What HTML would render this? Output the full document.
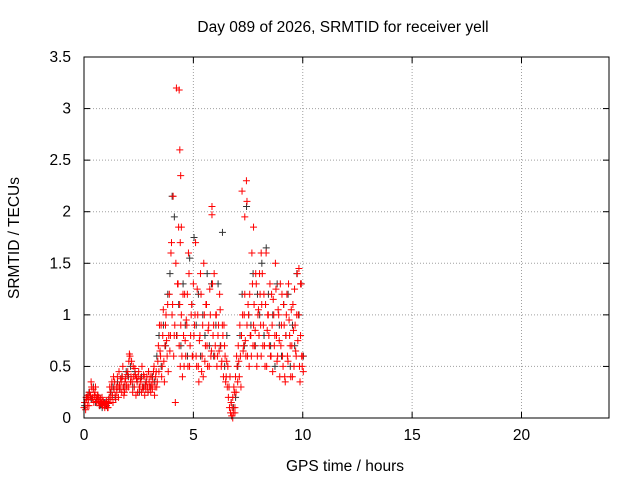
<!DOCTYPE html>
<html><head><meta charset="utf-8"><style>
body{margin:0;background:#fff;}
svg{display:block;font-family:"Liberation Sans",sans-serif;font-size:15.5px;}
</style></head><body>
<svg id="chart" width="640" height="480">
<rect width="640" height="480" fill="#fff"/>
<text x="343" y="32" text-anchor="middle">Day 089 of 2026, SRMTID for receiver yell</text>
<text transform="translate(19,238) rotate(-90)" text-anchor="middle">SRMTID / TECUs</text>
<text x="345" y="471" text-anchor="middle">GPS time / hours</text>
<g id="grid"></g>
<g id="axes"></g>
<g id="black"></g>
<g id="red"></g>
<rect x="84" y="57" width="525" height="361" fill="none" stroke="#000"/>
</svg>
<script>
const xTicks=[0,5,10,15,20];
const yTicks=[0,0.5,1,1.5,2,2.5,3,3.5];
const yTickLabels=["0","0.5","1","1.5","2","2.5","3","3.5"];
const redA=[0.10,0.15,0.20,0.12,0.18,0.25,0.22,0.30,0.20,0.15,0.25,0.20,0.18,0.15,0.12,0.18,0.14,0.12,0.15,0.10,
0.12,0.15,0.10,0.20,0.25,0.30,0.22,0.40,0.35,0.18,0.25,0.30,0.45,0.28,0.35,0.40,0.30,0.25,0.38,0.32,
0.45,0.55,0.60,0.40,0.35,0.50,0.30,0.42,0.38,0.25,0.45,0.30,0.35,0.50,0.28,0.40,0.32,0.35,0.30,0.45,
0.30,0.25,0.40,0.35,0.50,0.30,0.45,0.35,0.70,0.90,0.60,0.40,0.80,0.55,0.70,1.00,0.60,0.45,1.20,0.80,
1.70,1.10,0.60,0.90,1.50,0.80,1.30,0.70,0.50,1.00,0.40,0.80,1.20,0.60,0.90,0.50,1.40,0.70,1.00,0.60,
1.30,0.90,1.70,0.50,1.00,0.35,0.80,1.20,0.60,0.40,1.00,0.70,1.10,0.50,0.90,1.25,0.60,2.05,0.80,1.40,
0.70,1.00,0.60,0.90,1.20,0.70,0.55,0.80,0.90,0.60,0.40,0.30,0.20,0.10,0.05,0.02,0.20,0.30,0.10,0.25,
0.50,0.70,0.40,0.60,0.80,1.00,0.70,1.20,0.60,0.90,1.10,0.50,0.80,0.60,1.30,0.90,0.70,1.40,0.50,1.00,
0.80,1.20,0.60,1.40,0.90,0.70,1.10,0.50,1.00,0.80,1.30,0.60,0.90,1.15,0.70,1.50,0.80,0.60,1.00,0.40,
0.70,1.20,0.50,0.90,0.35,1.00,0.60,1.30,0.80,0.40,0.70,1.10,0.50,0.90,0.60,1.40,1.00,0.50,0.80,0.60,0.60];
const redB=[0.15,0.08,0.18,0.22,0.12,0.20,0.35,0.18,0.28,0.22,0.30,0.16,0.22,0.20,0.16,0.14,0.20,0.16,0.12,0.14,
0.16,0.10,0.14,0.30,0.18,0.35,0.15,0.28,0.22,0.30,0.40,0.20,0.32,0.38,0.25,0.50,0.22,0.35,0.28,0.42,
0.30,0.62,0.35,0.55,0.25,0.40,0.48,0.22,0.35,0.40,0.30,0.38,0.25,0.30,0.42,0.22,0.28,0.40,0.25,0.35,
0.40,0.32,0.28,0.45,0.22,0.40,0.30,0.55,0.45,0.65,0.90,0.50,1.05,0.35,0.90,0.75,1.10,0.80,0.65,1.60,
1.00,2.15,0.80,0.15,3.20,1.30,1.85,1.10,0.90,0.60,1.20,0.50,0.75,0.95,1.20,1.60,0.50,0.80,1.10,0.60,
0.80,1.00,0.60,1.25,0.50,0.75,1.40,0.45,0.90,1.50,0.55,1.10,0.70,0.85,0.50,1.00,0.65,1.30,0.90,0.60,
1.00,0.50,0.80,0.65,1.05,0.50,0.90,0.40,0.70,0.35,0.55,0.50,0.30,0.40,0.15,0.10,0.05,0.25,0.40,0.60,
0.35,0.55,0.90,0.30,2.20,0.65,1.00,0.75,2.30,0.60,1.00,1.20,0.80,1.60,0.70,1.10,0.85,1.30,0.60,1.05,
1.40,0.90,1.10,0.70,1.20,0.50,1.60,0.85,1.00,0.70,0.60,1.20,0.45,1.00,0.80,1.25,0.55,1.05,0.75,1.30,
0.90,0.60,1.10,0.40,0.80,1.20,0.55,0.95,0.70,1.05,0.40,0.85,1.25,0.65,1.00,0.75,1.45,0.35,1.30,0.50,0.45];
const redExtraT=[4.35,4.38,4.42,4.45,4.4,2.95,5.85,7.35,7.45,7.75,8.1,6.8,6.9,9.9];
const redExtraV=[3.18,2.6,2.35,1.85,1.7,0.45,1.97,1.95,2.1,1.85,1.6,0.0,0.05,1.3];
const blackV=[0.12,0.20,0.25,0.18,0.30,0.15,0.22,0.12,0.10,0.15,
0.12,0.18,0.25,0.30,0.20,0.35,0.28,0.40,0.30,0.45,
0.40,0.50,0.30,0.45,0.35,0.25,0.40,0.30,0.35,0.25,
0.30,0.40,0.35,0.60,0.80,0.50,0.90,0.70,1.20,1.40,
2.15,1.95,0.80,1.10,0.70,1.30,0.90,0.60,1.55,1.10,
1.75,0.90,1.20,0.60,1.00,0.80,1.40,0.70,1.30,0.60,
0.90,1.30,0.70,1.80,0.50,0.80,0.30,0.15,0.10,0.20,
0.50,0.80,1.20,0.70,2.05,1.00,0.90,1.40,0.70,1.20,
1.00,1.50,0.80,1.65,1.20,0.70,1.00,0.50,1.30,0.90,
0.60,1.10,0.80,1.20,0.50,0.90,0.70,1.40,1.00,1.30,0.60];
const redStep=0.05, blackStep=0.1, blackOffset=0.03;

const X0=84,X1=609,Y0=418,Y1=57,XMAX=24,YMAX=3.5;
const sx=v=>X0+v*(X1-X0)/XMAX, sy=v=>Y0-v*(Y0-Y1)/YMAX;
const NS="http://www.w3.org/2000/svg";
function mk(tag,at,parent){const e=document.createElementNS(NS,tag);for(const k in at)e.setAttribute(k,at[k]);parent.appendChild(e);return e;}
const grid=document.getElementById('grid'),axes=document.getElementById('axes');
xTicks.forEach(t=>{const x=sx(t);
 if(t>0){const g=mk('line',{x1:x,x2:x,y1:Y1,y2:Y0,stroke:'#a0a0a0','stroke-dasharray':'1,2'},grid);
 
 }
 mk('line',{x1:x,x2:x,y1:Y0,y2:Y0-6,stroke:'#000'},axes);
 mk('line',{x1:x,x2:x,y1:Y1,y2:Y1+6,stroke:'#000'},axes);
 const l=mk('text',{x:x,y:Y0+22,'text-anchor':'middle'},axes);l.textContent=t;
 
 });
yTicks.forEach((t,i)=>{const y=sy(t);
 if(t>0&&t<YMAX){const g=mk('line',{x1:X0,x2:X1,y1:y,y2:y,stroke:'#a0a0a0','stroke-dasharray':'1,2'},grid);
 
 }
 mk('line',{x1:X0,x2:X0+6,y1:y,y2:y,stroke:'#000'},axes);
 mk('line',{x1:X1,x2:X1-6,y1:y,y2:y,stroke:'#000'},axes);
 const l=mk('text',{x:X0-13,y:y+5,'text-anchor':'end'},axes);l.textContent=yTickLabels[i];
 
 });
function plus(g,t,v,col,name){const x=sx(t),y=sy(v);
 const p=mk('path',{d:`M${x-3.5},${y}h7M${x},${y-3.5}v7`,stroke:col,'stroke-width':1,fill:'none'},g);
 
 }
const bg=document.getElementById('black'),rg=document.getElementById('red');
blackV.forEach((v,i)=>plus(bg,i*blackStep+blackOffset,v,'#333','black-point'));
redA.forEach((v,i)=>plus(rg,i*redStep,v,'#f00','red-point'));
redB.forEach((v,i)=>plus(rg,i*redStep+0.025,v,'#f00','red-point'));
redExtraT.forEach((t,i)=>plus(rg,t,redExtraV[i],'#f00','red-point'));
</script>
</body></html>
